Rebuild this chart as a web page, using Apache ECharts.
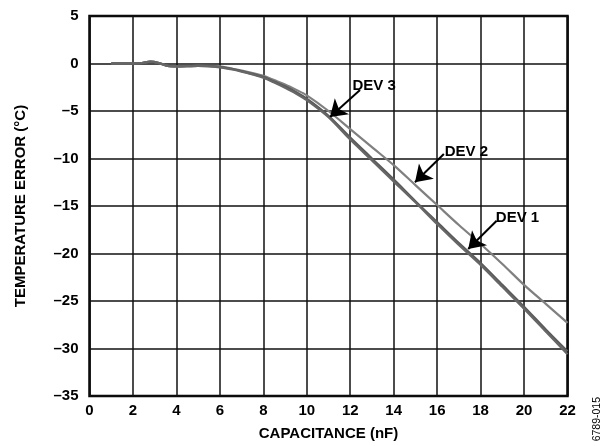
<!DOCTYPE html>
<html>
<head>
<meta charset="utf-8">
<script src="https://cdn.jsdelivr.net/npm/echarts@6/dist/echarts.min.js"></script>
<style>
html,body{margin:0;padding:0;background:#fff;}
#c{width:613px;height:446px;}
</style>
</head>
<body>
<div id="c"></div>
<script>
// Capacitance (nF)
var capacitance = [1, 2, 2.4, 2.8, 3.2, 3.6, 4, 5, 6, 6.5, 7, 7.5, 8, 8.5, 9, 9.5, 10, 11, 12, 13, 14, 15, 16, 17, 18, 19, 20, 21, 22];
// Temperature error (°C)
var dev1 = [0, 0, 0.05, 0.2, 0.05, -0.25, -0.3, -0.25, -0.35, -0.55, -0.8, -1.1, -1.4, -1.9, -2.4, -3.0, -3.7, -5.5, -7.8, -10.0, -12.2, -14.5, -16.7, -18.9, -21.0, -23.3, -25.6, -28.0, -30.3];
var dev2 = [0, 0, 0.05, 0.2, 0.05, -0.25, -0.3, -0.25, -0.3, -0.5, -0.75, -1.0, -1.3, -1.75, -2.2, -2.75, -3.35, -5.0, -6.9, -8.8, -10.7, -12.8, -14.9, -17.0, -19.0, -21.1, -23.3, -25.3, -27.3];
var dev3 = [0, 0, 0.05, 0.2, 0.05, -0.25, -0.3, -0.25, -0.4, -0.6, -0.85, -1.15, -1.5, -2.0, -2.55, -3.15, -3.85, -5.65, -8.0, -10.2, -12.4, -14.6, -16.9, -19.1, -21.2, -23.5, -25.8, -28.2, -30.6];
var xTicks = [0, 2, 4, 6, 8, 10, 12, 14, 16, 18, 20, 22];
var yTicks = [5, 0, -5, -10, -15, -20, -25, -30, -35];
// Annotation anchors (data coords): [label position, arrow start, arrow tip]
var dev1Note = [[18.70, -16.3], [18.74, -16.55], [17.43, -19.53]];
var dev2Note = [[16.35, -9.3], [16.31, -9.53], [14.98, -12.5]];
var dev3Note = [[12.1, -2.35], [12.45, -2.8], [11.07, -5.63]];

function pairs(xs, ys) { return xs.map(function (x, i) { return [x, ys[i]]; }); }

var FONT = '"Liberation Sans", Arial, Helvetica, sans-serif';

function note(name, n) {
  return {
    markPoint: {
      symbol: 'circle', symbolSize: 0, silent: true,
      data: [{ coord: n[0], value: name }],
      label: { show: true, position: 'right', distance: 0, formatter: name,
        color: '#000', fontFamily: FONT, fontWeight: 'bold', fontSize: 15 }
    },
    markLine: {
      silent: true, symbol: ['none', 'arrow'], symbolSize: 16,
      label: { show: false },
      itemStyle: { color: '#000' },
      lineStyle: { color: '#000', width: 2, type: 'solid' },
      emphasis: { disabled: true },
      data: [[{ coord: n[1] }, { coord: n[2] }]]
    }
  };
}

function series(name, ys, color, width, z, n) {
  var s = {
    name: name, type: 'line', data: pairs(capacitance, ys),
    showSymbol: false, smooth: 0.3, z: z,
    lineStyle: { color: color, width: width },
    itemStyle: { color: color }
  };
  var a = note(name, n);
  s.markPoint = a.markPoint; s.markLine = a.markLine;
  return s;
}

var chart = echarts.init(document.getElementById('c'), null, { renderer: 'canvas' });
chart.setOption({
  animation: false,
  backgroundColor: '#fff',
  grid: { left: 89.5, right: 45.5, top: 16, bottom: 49, show: true, borderColor: '#000', borderWidth: 2.5, backgroundColor: 'transparent' },
  xAxis: {
    type: 'value', min: 0, max: 22, interval: 2,
    name: 'CAPACITANCE (nF)', nameLocation: 'middle', nameGap: 30,
    nameTextStyle: { color: '#000', fontFamily: FONT, fontWeight: 'bold', fontSize: 15 },
    axisLine: { show: false }, axisTick: { show: false },
    axisLabel: { color: '#000', fontFamily: FONT, fontWeight: 'bold', fontSize: 15, margin: 7,
      formatter: function (v) { return xTicks.indexOf(v) >= 0 ? String(v) : ''; } },
    splitLine: { show: true, lineStyle: { color: '#111', width: 1.5 } }
  },
  yAxis: {
    type: 'value', min: -35, max: 5, interval: 5,
    name: 'TEMPERATURE ERROR (°C)', nameLocation: 'middle', nameGap: 61,
    nameTextStyle: { color: '#000', fontFamily: FONT, fontWeight: 'bold', fontSize: 15 },
    axisLine: { show: false }, axisTick: { show: false },
    axisLabel: { color: '#000', fontFamily: FONT, fontWeight: 'bold', fontSize: 15, margin: 11,
      formatter: function (v) { return yTicks.indexOf(v) >= 0 ? (v < 0 ? '\u2013' + Math.abs(v) : String(v)) : ''; } },
    splitLine: { show: true, lineStyle: { color: '#111', width: 1.5 } }
  },
  series: [
    series('DEV 2', dev2, '#808080', 2.2, 3, dev2Note),
    series('DEV 1', dev1, '#5a5a5a', 2.3, 4, dev1Note),
    series('DEV 3', dev3, '#666666', 2.3, 5, dev3Note)
  ],
  graphic: [{
    type: 'text', left: 592, top: 397, rotation: Math.PI / 2,
    style: { text: '6789-015', fill: '#000', font: '10.5px ' + FONT }
  }]
});
</script>
</body>
</html>
